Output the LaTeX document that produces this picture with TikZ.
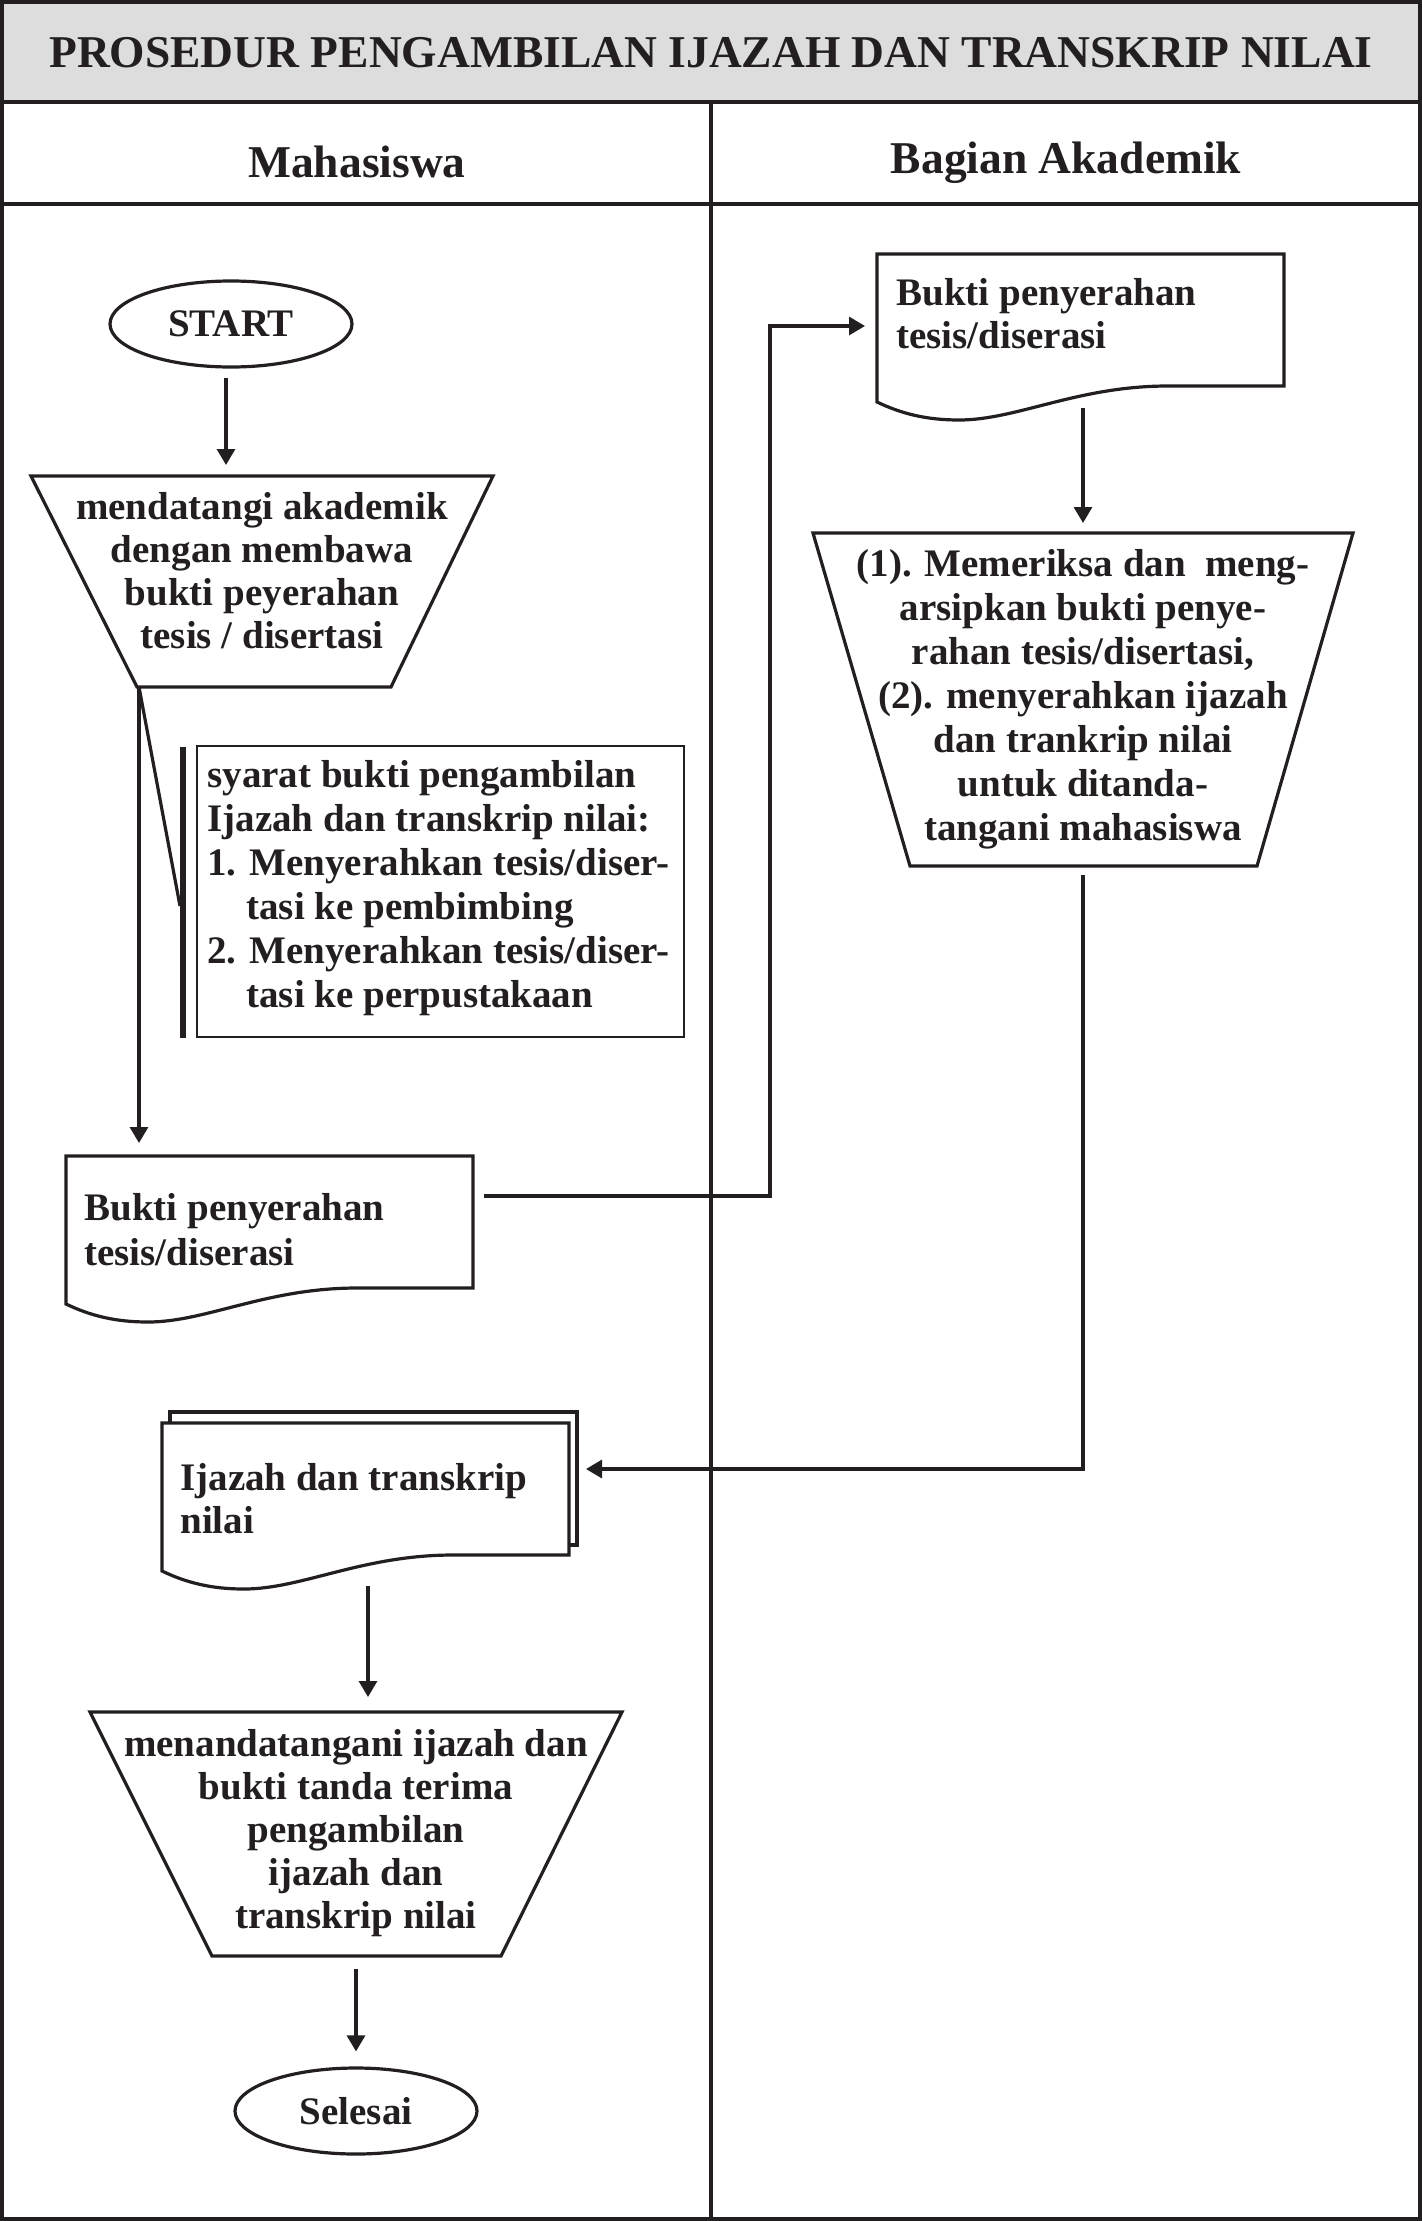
\documentclass[tikz,border=0pt]{standalone}
\usepackage{fontspec}
\setmainfont{Liberation Serif}
\usetikzlibrary{arrows.meta,shapes.geometric,calc}
\definecolor{ink}{RGB}{35,31,32}
\definecolor{band}{RGB}{221,221,221}
\tikzset{
  shapeline/.style={draw=ink, line width=1.6pt},
  conn/.style={draw=ink, line width=1.6pt},
  arr/.style={conn, -{Triangle[length=8pt,width=9pt]}},
  frame/.style={draw=ink, line width=2.2pt},
  bodyfont/.style={font=\bfseries\fontsize{19.5}{21.5}\selectfont},
  txt/.style={inner sep=0pt, align=center, text=ink, bodyfont},
  ltxt/.style={inner sep=0pt, align=left, text=ink, bodyfont},
  headtxt/.style={inner sep=0pt, text=ink, font=\bfseries\fontsize{22.75}{26}\selectfont},
  term/.style={ellipse, draw=ink, line width=1.6pt, minimum width=121pt, minimum height=43pt, inner sep=0pt, text=ink, bodyfont},
  docpic/.pic={\draw[shapeline, fill=white] (0,0) -- (407,0) -- (407,132) -- (291,132)
      .. controls (200,132) and (140,166) .. (82,166)
      .. controls (50,166) and (25,160) .. (0,148) -- cycle;}
}
\begin{document}
\begin{tikzpicture}[x=0.5pt, y=-0.5pt, line join=miter]
\useasboundingbox (0,0) rectangle (1422,2221);
% frame
\fill[band] (0,0) rectangle (1422,102);
\draw[frame] (2,2) rectangle (1420,2219);
\draw[frame] (2,102) -- (1420,102);
\draw[frame] (2,204) -- (1420,204);
\draw[frame] (711,102) -- (711,2219);
\node[headtxt, anchor=base] (title) at (711,68) {PROSEDUR PENGAMBILAN IJAZAH DAN TRANSKRIP NILAI};
\node[headtxt, anchor=base] (hmhs) at (357,177) {Mahasiswa};
\node[headtxt, anchor=base] (hakd) at (1066,173) {Bagian Akademik};

% START
\node[term] (start) at (231,324) {START};

% trapezoid 1
\draw[shapeline] (31,476) -- (493,476) -- (391,687) -- (137,687) -- cycle;
\coordinate (t1top) at (262,476);
\coordinate (t1bl) at (139,687);
\node[txt, anchor=base] (t1) at (262,648) {mendatangi akademik\\dengan membawa\\bukti peyerahan\\tesis / disertasi};
\draw[arr, shorten <=4.5pt, shorten >=5.5pt] ([xshift=-2.5pt]start.south) -- ([xshift=-2.5pt]start.south |- t1top);

% annotation box
\coordinate (bartop) at (183,747);
\coordinate (barbot) at (183,1038);
\coordinate (barjoin) at (180,906);
\draw[ink, line width=3pt] (bartop) -- (barbot);
\draw[ink, line width=1.3pt] (197,746) rectangle (684,1037);
\node[ltxt, anchor=base west, font=\bfseries\fontsize{19.5}{22}\selectfont] (syarat) at (207,1007)
  {syarat bukti pengambilan\\Ijazah dan transkrip nilai:\\1. Menyerahkan tesis/diser-\\\hphantom{1.}\ tasi ke pembimbing\\2. Menyerahkan tesis/diser-\\\hphantom{2.}\ tasi ke perpustakaan};
\draw[conn] (t1bl) -- (barjoin);

% left document
\pic at (66,1156) {docpic};
\node[inner sep=0pt, minimum width=203.5pt, minimum height=65.5pt, anchor=north west] (bl) at (66,1156) {};
\node[ltxt, anchor=base west, font=\bfseries\fontsize{19.5}{22.5}\selectfont] (blt) at (84,1265) {Bukti penyerahan\\tesis/diserasi};
\draw[arr, shorten >=6.5pt] (t1bl) -- (t1bl |- bl.north);

% right document
\pic at (877,254) {docpic};
\node[inner sep=0pt, minimum width=203.5pt, minimum height=66pt, anchor=north west] (br) at (877,254) {};
\node[ltxt, anchor=base west] (brt) at (896,348) {Bukti penyerahan\\tesis/diserasi};

% connector left doc -> right doc
\coordinate (blout) at (473,1196);
\coordinate (jog) at (770,326);
\coordinate (brin) at (877,326);
\draw[arr, shorten <=5.5pt, shorten >=6pt] (blout) -| (jog) -- (brin);

% trapezoid 2
\draw[shapeline] (813,533) -- (1353,533) -- (1257,866) -- (910,866) -- cycle;
\coordinate (t2top) at (1083,533);
\coordinate (t2bot) at (1083,866);
\coordinate (brwave) at (1083,396);
\node[txt, anchor=base, font=\bfseries\fontsize{19.5}{22}\selectfont] (t2) at (1083,840)
  {(1). Memeriksa dan\ \ meng-\\arsipkan bukti penye-\\rahan tesis/disertasi,\\(2). menyerahkan ijazah\\dan trankrip nilai\\untuk ditanda-\\tangani mahasiswa};
\draw[arr, shorten <=6pt, shorten >=5pt] (brwave) -- (t2top);

% ijazah multi-document
\draw[shapeline, fill=white] (170,1412) rectangle (577,1545);
\pic at (162,1423) {docpic};
\node[inner sep=0pt, minimum width=207.5pt, minimum height=71.5pt, anchor=north west] (ij) at (162,1412) {};
\node[ltxt, anchor=base west] (ijt) at (180,1533) {Ijazah dan transkrip\\nilai};
\coordinate (jog2) at (1083,1469);
\coordinate (ijin) at (577,1469);
\draw[arr, shorten <=4.5pt, shorten >=4.5pt] (t2bot) -- (jog2) -- (ijin);

% trapezoid 3
\draw[shapeline] (90,1712) -- (622,1712) -- (501,1956) -- (212,1956) -- cycle;
\coordinate (t3top) at (368,1712);
\coordinate (t3bot) at (356,1956);
\coordinate (ijwave) at (368,1565);
\node[txt, anchor=base] (t3) at (356,1928)
  {menandatangani ijazah dan\\bukti tanda terima\\pengambilan\\ijazah dan\\transkrip nilai};
\draw[arr, shorten <=10.5pt, shorten >=7.5pt] (ijwave) -- (t3top);

% end
\node[term] (end) at (356,2111) {Selesai};
\draw[arr, shorten <=6.5pt, shorten >=7.5pt] (t3bot) -- (t3bot |- end.north);
\end{tikzpicture}
\end{document}
